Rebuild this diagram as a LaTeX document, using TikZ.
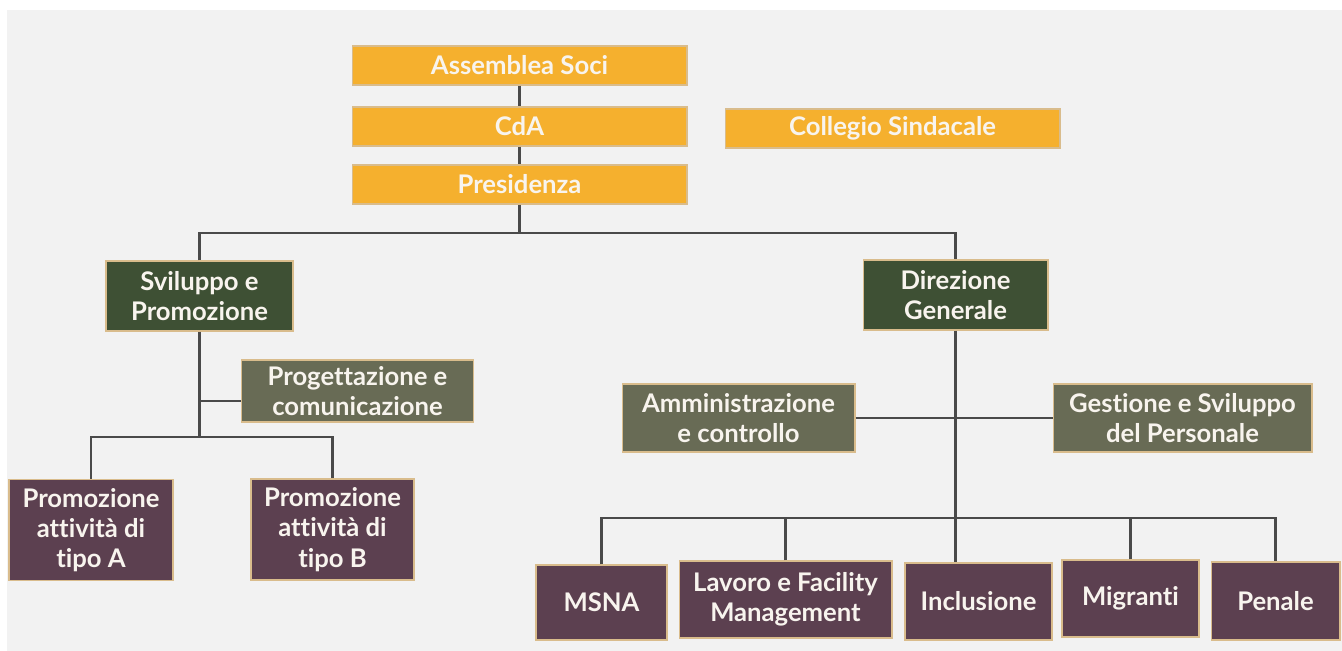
\documentclass[tikz,border=0pt]{standalone}
\usepackage{fontspec}
\setmainfont{Lato}[Ligatures=NoCommon]
\usepackage{tikz}
\definecolor{orgbox}{HTML}{F5B02E}
\definecolor{dirbox}{HTML}{3E5034}
\definecolor{staffbox}{HTML}{686B55}
\definecolor{unitbox}{HTML}{5C4050}
\definecolor{boxedge}{HTML}{D9BC8C}
\definecolor{bggray}{HTML}{F2F2F2}
\definecolor{linegray}{HTML}{4A4A4A}
\definecolor{boxtext}{HTML}{F8F4EE}

\begin{document}
\begin{tikzpicture}[x=0.02cm, y=-0.02cm,
    box/.style={draw=boxedge, line width=0.6pt, text=boxtext, align=center,
        inner sep=0pt, font=\fontsize{14.6}{17.2}\selectfont\bfseries},
    orgbox/.style={box, fill=orgbox, minimum width=6.7cm, minimum height=0.78cm},
    dirbox/.style={box, fill=dirbox, minimum height=1.4cm},
    staffbox/.style={box, fill=staffbox},
    unitbox/.style={box, fill=unitbox},
    link/.style={draw=linegray, line width=1.2pt}]
    % sfondo
    \fill[white] (0,0) rectangle (1342,651);
    \fill[bggray] (7,10) rectangle (1342,651);

    % vertici
    \node[orgbox] (assemblea) at (519.5,65.5) {Assemblea Soci};
    \node[orgbox] (cda) at (519.5,126.5) {CdA};
    \node[orgbox] (presidenza) at (519.5,184.5) {Presidenza};
    \node[orgbox] (collegio) at (892.5,128.5) {Collegio Sindacale};

    \node[dirbox, minimum width=3.74cm] (sviluppo) at (199.5,296) {Sviluppo e\\Promozione};
    \node[dirbox, minimum width=3.7cm] (direzione) at (955.5,295) {Direzione\\Generale};

    \node[staffbox, minimum width=4.64cm, minimum height=1.24cm] (progettazione) at (357.5,391) {Progettazione e\\comunicazione};
    \node[staffbox, minimum width=4.66cm, minimum height=1.36cm] (amministrazione) at (738.5,418) {Amministrazione\\e controllo};
    \node[staffbox, minimum width=5.18cm, minimum height=1.36cm] (gestione) at (1182.5,418) {Gestione e Sviluppo\\del Personale};

    % unita operative
    \node[unitbox, minimum width=3.28cm, minimum height=2.02cm] (promA) at (91,530) {Promozione\\attività di\\tipo A};
    \node[unitbox, minimum width=3.26cm, minimum height=2.02cm] (promB) at (332.5,529.5) {Promozione\\attività di\\tipo B};
    \node[unitbox, minimum width=2.62cm, minimum height=1.5cm] (msna) at (601.5,602.5) {MSNA};
    \node[unitbox, minimum width=4.26cm, minimum height=1.54cm] (lavoro) at (785.5,599.5) {Lavoro e Facility\\Management};
    \node[unitbox, minimum width=2.94cm, minimum height=1.54cm] (inclusione) at (978.5,601.5) {Inclusione};
    \node[unitbox, minimum width=2.74cm, minimum height=1.54cm] (migranti) at (1130.5,598.5) {Migranti};
    \node[unitbox, minimum width=2.58cm, minimum height=1.56cm] (penale) at (1275.5,601) {Penale};

    % punti di snodo
    \coordinate (topbus) at (519.5,233);
    \coordinate (leftbus) at (199.5,437);
    \coordinate (proj) at (199.5,401);
    \coordinate (unitbus) at (955.5,518);

    % collegamenti
    \draw[link] (assemblea) -- (cda);
    \draw[link] (cda) -- (presidenza);
    \draw[link] (presidenza) -- (topbus);
    \draw[link] (sviluppo.north) |- (topbus) -| (direzione.north);
    \draw[link] (sviluppo.south) -- (leftbus);
    \draw[link] (proj) -- (proj -| progettazione.west);
    \draw[link] (promA.north) |- (leftbus) -| (promB.north);
    \draw[link] (direzione.south) -- (direzione.south |- inclusione.north);
    \draw[link] (amministrazione.east) -- (gestione.west);
    \draw[link] (msna.north) |- (unitbus) -| (penale.north);
    \foreach \unit in {lavoro, migranti}{
        \draw[link] (\unit.north) -- (\unit.north |- unitbus);
    }
\end{tikzpicture}
\end{document}
